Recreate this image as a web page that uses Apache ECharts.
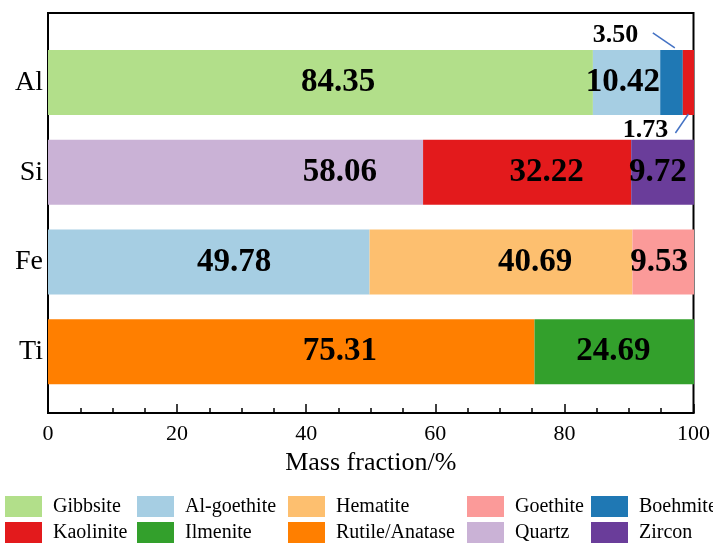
<!DOCTYPE html>
<html>
<head>
<meta charset="utf-8">
<script src="https://cdn.jsdelivr.net/npm/echarts@6/dist/echarts.min.js"></script>
<style>
  html, body { margin: 0; padding: 0; background: #fff; }
  #chart { width: 713px; height: 543px; }
</style>
</head>
<body>
<div id="chart"></div>
<script>
// Elements (rows, top to bottom)
const elements = ['Al', 'Si', 'Fe', 'Ti'];

// Mass fraction (%) of each mineral phase per element; null = absent
const gibbsite      = [84.35, null,  null,  null];
const quartz        = [null,  58.06, null,  null];
const alGoethite    = [10.42, null,  49.78, null];
const rutileAnatase = [null,  null,  null,  75.31];
const hematite      = [null,  null,  40.69, null];
const boehmite      = [3.50,  null,  null,  null];
const kaolinite     = [1.73,  32.22, null,  null];
const ilmenite      = [null,  null,  null,  24.69];
const goethite      = [null,  null,  9.53,  null];
const zircon        = [null,  9.72,  null,  null];

// X-axis ticks
const xTicks = [0, 20, 40, 60, 80, 100];

const FONT = "'Liberation Serif', 'Times New Roman', serif";
const W = 713, H = 543;
const GRID_L = 48, GRID_R = 19;
const pxPerUnit = (W - GRID_L - GRID_R) / (xTicks[xTicks.length - 1] - xTicks[0]);

// Stack order (left to right within each row)
const seriesDefs = [
  { name: 'Gibbsite',       data: gibbsite,      color: '#b2df8a' },
  { name: 'Quartz',         data: quartz,        color: '#cab2d6' },
  { name: 'Al-goethite',    data: alGoethite,    color: '#a6cee3' },
  { name: 'Rutile/Anatase', data: rutileAnatase, color: '#ff7f00' },
  { name: 'Hematite',       data: hematite,      color: '#fdbf6f' },
  { name: 'Boehmite',       data: boehmite,      color: '#1f78b4' },
  { name: 'Kaolinite',      data: kaolinite,     color: '#e31a1c' },
  { name: 'Ilmenite',       data: ilmenite,      color: '#33a02c' },
  { name: 'Goethite',       data: goethite,      color: '#fb9a99' },
  { name: 'Zircon',         data: zircon,        color: '#6a3d9a' }
];

// Where the in-bar value labels sit horizontally (axis units), per series/row
const labelAnchor = {
  'Gibbsite':       { 0: 44.9 },
  'Al-goethite':    { 0: 89.0, 2: 28.8 },
  'Quartz':         { 1: 45.2 },
  'Kaolinite':      { 1: 77.2 },
  'Zircon':         { 1: 94.4 },
  'Hematite':       { 2: 75.4 },
  'Goethite':       { 2: 94.6 },
  'Rutile/Anatase': { 3: 45.2 },
  'Ilmenite':       { 3: 87.5 }
};

// Small segments labelled outside the bar with a leader line
const outsideLabels = {
  'Boehmite':  { 0: { position: 'top',    offset: [-56, 2] } },
  'Kaolinite': { 0: { position: 'bottom', offset: [-43, -2] } }
};

// cumulative start of each segment along the row
const cum = elements.map(() => 0);
const segStart = {};
seriesDefs.forEach(s => {
  segStart[s.name] = s.data.map((v, i) => {
    const st = cum[i];
    if (v != null) cum[i] += v;
    return st;
  });
});

const bigLabel = { show: true, position: 'inside', color: '#000', fontFamily: FONT, fontWeight: 'bold', fontSize: 33,
  formatter: p => p.value.toFixed(2) };
const smallLabel = { color: '#000', fontFamily: FONT, fontWeight: 'bold', fontSize: 26,
  formatter: p => p.value.toFixed(2) };

const series = seriesDefs.map(s => ({
  name: s.name,
  type: 'bar',
  stack: 'total',
  xAxisIndex: 1,
  yAxisIndex: 1,
  barWidth: 65,
  itemStyle: { color: s.color },
  emphasis: { disabled: true },
  data: s.data.map((v, i) => {
    if (v == null) return null;
    const out = outsideLabels[s.name] && outsideLabels[s.name][i];
    if (out) {
      return { value: v, label: Object.assign({ show: true, position: out.position, distance: 4, offset: out.offset }, smallLabel) };
    }
    const anchor = labelAnchor[s.name] && labelAnchor[s.name][i];
    const centre = segStart[s.name][i] + v / 2;
    const dx = anchor != null ? (anchor - centre) * pxPerUnit : 0;
    return { value: v, label: Object.assign({}, bigLabel, { offset: [dx, 0] }) };
  })
}));

const legendCols = [
  ['Gibbsite', 'Kaolinite'],
  ['Al-goethite', 'Ilmenite'],
  ['Hematite', 'Rutile/Anatase'],
  ['Goethite', 'Quartz'],
  ['Boehmite', 'Zircon']
];
const legendLeft = [5, 137, 288, 467, 591];

const legends = legendCols.map((names, k) => ({
  data: names,
  orient: 'vertical',
  left: legendLeft[k],
  top: 496,
  padding: 0,
  itemGap: 5,
  itemWidth: 37,
  itemHeight: 21,
  icon: 'rect',
  selectedMode: false,
  textStyle: { fontFamily: FONT, fontSize: 20, color: '#000', padding: [0, 0, 0, 6] }
}));

const chart = echarts.init(document.getElementById('chart'), null, { renderer: 'canvas' });

chart.setOption({
  animation: false,
  backgroundColor: '#fff',
  grid: [
    // frame with the mass-fraction axis
    { left: GRID_L, right: GRID_R, top: 13, bottom: 130, show: true, borderColor: '#000', borderWidth: 2, backgroundColor: 'transparent' },
    // bars
    { left: GRID_L, right: GRID_R, top: 37.6, bottom: 146.3 }
  ],
  legend: legends,
  xAxis: [
    {
      gridIndex: 0, type: 'value', min: xTicks[0], max: xTicks[xTicks.length - 1], interval: 20,
      name: 'Mass fraction/%', nameLocation: 'middle', nameGap: 35,
      nameTextStyle: { fontFamily: FONT, fontSize: 26, color: '#000' },
      axisLine: { show: true, lineStyle: { color: '#000', width: 2 } },
      axisTick: { show: true, inside: true, length: 9, lineStyle: { color: '#000', width: 1.5 } },
      minorTick: { show: true, splitNumber: 4, length: 5, lineStyle: { color: '#000', width: 1.5 } },
      axisLabel: { fontFamily: FONT, fontSize: 22, color: '#000', margin: 10 },
      splitLine: { show: false }
    },
    { gridIndex: 1, type: 'value', min: xTicks[0], max: xTicks[xTicks.length - 1], show: false }
  ],
  yAxis: [
    { gridIndex: 0, type: 'value', show: false },
    {
      gridIndex: 1, type: 'category', data: elements, inverse: true,
      axisLine: { show: false }, axisTick: { show: false },
      axisLabel: { fontFamily: FONT, fontSize: 28, color: '#000', margin: 5 }
    }
  ],
  series: series
});

// Leader lines for the two small Al segments
function px(value, row) {
  return chart.convertToPixel({ xAxisIndex: 1, yAxisIndex: 1 }, [value, row]);
}
const half = 65 / 2;
const bEnd = segStart['Boehmite'][0] + boehmite[0];
const pB = px(bEnd, 0);
const kMid = segStart['Kaolinite'][0] + kaolinite[0] / 2;
const pK = px(kMid, 0);
const lineStyle = { stroke: '#4472c4', lineWidth: 1.5 };
chart.setOption({
  graphic: [
    { type: 'line', shape: { x1: pB[0] - 30, y1: pB[1] - half - 17, x2: pB[0] - 8, y2: pB[1] - half - 2 }, style: lineStyle, z: 10 },
    { type: 'line', shape: { x1: pK[0] - 13, y1: pK[1] + half + 18, x2: pK[0], y2: pK[1] + half - 1 }, style: lineStyle, z: 10 }
  ]
});
</script>
</body>
</html>
